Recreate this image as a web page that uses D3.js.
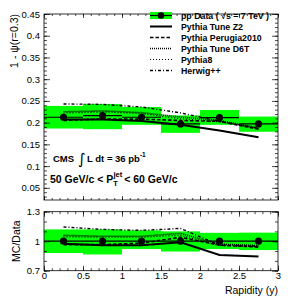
<!DOCTYPE html>
<html><head><meta charset="utf-8">
<script src="https://cdn.jsdelivr.net/npm/d3@7"></script>
<style>
html,body{margin:0;padding:0;background:#fff;}
svg{display:block;font-family:"Liberation Sans",Arial,sans-serif;}
</style></head>
<body><svg id="c" width="293" height="306"></svg>
<script>
// ---------- data ----------
const binCenters = [0.25, 0.75, 1.25, 1.75, 2.25, 2.75];
const binHalfWidth = 0.25;
const dataVals = [0.2124, 0.2161, 0.2124, 0.197, 0.2115, 0.197];
const sysHigh = [0.2385, 0.243, 0.236, 0.2165, 0.229, 0.214];
const sysLow  = [0.1865, 0.185, 0.195, 0.1765, 0.195, 0.179];
const ratioSysHigh = [1.12, 1.12, 1.11, 1.10, 1.085, 1.087];
const ratioSysLow  = [0.88, 0.865, 0.92, 0.895, 0.92, 0.91];

const mcNames = ["Pythia Tune Z2", "Pythia Perugia2010", "Pythia Tune D6T", "Pythia8", "Herwig++"];
const mcZ2      = [0.207, 0.2075, 0.204, 0.195, 0.182, 0.1665];
const mcPerugia = [0.205, 0.2085, 0.208, 0.205, 0.203, 0.185];
const mcD6T     = [0.225, 0.227, 0.223, 0.213, 0.205, 0.188];
const mcPythia8 = [0.222, 0.2245, 0.221, 0.209, 0.202, 0.186];
const mcHerwig  = [0.243, 0.242, 0.236, 0.2225, 0.203, 0.187];

const ratioZ2      = [0.975, 0.96, 0.96, 0.99, 0.86, 0.845];
const ratioPerugia = [0.965, 0.965, 0.98, 1.04, 0.96, 0.94];
const ratioD6T     = [1.06, 1.05, 1.05, 1.08, 0.97, 0.955];
const ratioPythia8 = [1.045, 1.04, 1.04, 1.06, 0.955, 0.945];
const ratioHerwig  = [1.145, 1.12, 1.11, 1.13, 0.96, 0.95];

const xTickLabels = ["0", "0.5", "1", "1.5", "2", "2.5", "3"];
const topYTicks = [0.05, 0.1, 0.15, 0.2, 0.25, 0.3, 0.35, 0.4, 0.45];
const topYTickLabels = ["0.05", "0.1", "0.15", "0.2", "0.25", "0.3", "0.35", "0.4", "0.45"];
const botYTicks = [0.7, 1.0, 1.3];
const botYTickLabels = ["0.7", "1", "1.3"];

// ---------- layout ----------
const svg = d3.select("#c");
const X0 = 44, X1 = 278;
const TOP0 = 14, TOP1 = 200, BOT0 = 211.7, BOT1 = 270.7;
const x = d3.scaleLinear().domain([0, 3]).range([X0, X1]);
const yT = d3.scaleLinear().domain([0.022, 0.45]).range([TOP1, TOP0]);
const yB = d3.scaleLinear().domain([0.7, 1.3]).range([BOT1, BOT0]);

const styles = [
  {w: 2, dash: null},
  {w: 1.6, dash: "3.5,2"},
  {w: 1.6, dash: "1,1"},
  {w: 1.2, dash: "1,2"},
  {w: 1.4, dash: "3,2,1,2"}
];
const GREEN = "#00ff00";

function drawPanel(y, sLo, sHi, dvals, mcs, y0, y1) {
  const g = svg.append("g");
  g.selectAll("rect.band").data(binCenters).enter().append("rect")
    .attr("x", (d) => x(d - binHalfWidth))
    .attr("width", (d) => x(d + binHalfWidth) - x(d - binHalfWidth))
    .attr("y", (d, i) => y(sHi[i]))
    .attr("height", (d, i) => y(sLo[i]) - y(sHi[i]))
    .attr("fill", GREEN);
  const line = d3.line().x((d, i) => x(binCenters[i])).y((d) => y(d));
  mcs.forEach((arr, k) => {
    g.append("path").attr("d", line(arr)).attr("fill", "none")
      .attr("stroke", "#000").attr("stroke-width", styles[k].w)
      .attr("stroke-dasharray", styles[k].dash);
  });
  g.selectAll("line.db").data(binCenters).enter().append("line")
    .attr("x1", (d) => x(d - binHalfWidth)).attr("x2", (d) => x(d + binHalfWidth))
    .attr("y1", (d, i) => y(dvals[i])).attr("y2", (d, i) => y(dvals[i]))
    .attr("stroke", "#000").attr("stroke-width", 1.2);
  g.selectAll("circle").data(binCenters).enter().append("circle")
    .attr("cx", (d) => x(d)).attr("cy", (d, i) => y(dvals[i])).attr("r", 3.6)
    .attr("fill", "#000");
  svg.append("rect").attr("x", X0).attr("y", y1).attr("width", X1 - X0).attr("height", y0 - y1)
    .attr("fill", "none").attr("stroke", "#000").attr("stroke-width", 0.8);
}

drawPanel(yT, sysLow, sysHigh, dataVals, [mcZ2, mcPerugia, mcD6T, mcPythia8, mcHerwig], TOP1, TOP0);
drawPanel(yB, ratioSysLow, ratioSysHigh, binCenters.map(() => 1), [ratioZ2, ratioPerugia, ratioD6T, ratioPythia8, ratioHerwig], BOT1, BOT0);

// ---------- axes / ticks ----------
function ticksGroup(axis, tx, ty) {
  const g = svg.append("g").attr("transform", `translate(${tx},${ty})`).call(axis);
  g.select(".domain").remove();
  g.selectAll("line").attr("stroke", "#000").attr("stroke-width", 0.7);
  return g;
}
const xMajor = d3.range(0, 3.01, 0.5);
const xMinor = d3.range(0, 3.001, 0.1);
[[TOP0, TOP1, 4, 2], [BOT0, BOT1, 5, 2.5]].forEach(([a, b, maj, mnr]) => {
  ticksGroup(d3.axisBottom(x).tickValues(xMajor).tickSize(-maj).tickFormat(""), 0, b);
  ticksGroup(d3.axisBottom(x).tickValues(xMinor).tickSize(-mnr).tickFormat(""), 0, b);
  ticksGroup(d3.axisTop(x).tickValues(xMajor).tickSize(-maj).tickFormat(""), 0, a);
  ticksGroup(d3.axisTop(x).tickValues(xMinor).tickSize(-mnr).tickFormat(""), 0, a);
});
const xl = ticksGroup(d3.axisBottom(x).tickValues(xMajor).tickSize(0).tickPadding(1.5).tickFormat((d, i) => xTickLabels[i]), 0, BOT1);
xl.selectAll("text").attr("font-size", 9.5).attr("fill", "#000").attr("font-family", "Liberation Sans, Arial");

const yTMinor = d3.range(0.03, 0.4501, 0.01);
ticksGroup(d3.axisLeft(yT).tickValues(topYTicks).tickSize(-6).tickPadding(4).tickFormat((d, i) => topYTickLabels[i]), X0, 0)
  .selectAll("text").attr("font-size", 9.5).attr("fill", "#000").attr("font-family", "Liberation Sans, Arial");
ticksGroup(d3.axisLeft(yT).tickValues(yTMinor).tickSize(-3).tickFormat(""), X0, 0);
ticksGroup(d3.axisRight(yT).tickValues(topYTicks).tickSize(-6).tickFormat(""), X1, 0);
ticksGroup(d3.axisRight(yT).tickValues(yTMinor).tickSize(-3).tickFormat(""), X1, 0);
const yBMinor = d3.range(0.7, 1.3001, 0.1);
ticksGroup(d3.axisLeft(yB).tickValues(botYTicks).tickSize(-6).tickPadding(4).tickFormat((d, i) => botYTickLabels[i]), X0, 0)
  .selectAll("text").attr("font-size", 9.5).attr("fill", "#000").attr("font-family", "Liberation Sans, Arial");
ticksGroup(d3.axisLeft(yB).tickValues(yBMinor).tickSize(-3).tickFormat(""), X0, 0);
ticksGroup(d3.axisRight(yB).tickValues(botYTicks).tickSize(-6).tickFormat(""), X1, 0);
ticksGroup(d3.axisRight(yB).tickValues(yBMinor).tickSize(-3).tickFormat(""), X1, 0);

svg.append("text").attr("transform", `translate(18,${TOP0}) rotate(-90)`)
  .attr("text-anchor", "end").attr("font-size", 10.5).text("1 - ψ(r=0.3)");
svg.append("text").attr("transform", `translate(19.5,${(BOT0 + BOT1) / 2}) rotate(-90)`)
  .attr("text-anchor", "middle").attr("font-size", 10.5).text("MC/Data");
svg.append("text").attr("x", X1).attr("y", 294).attr("text-anchor", "end")
  .attr("font-size", 10.5).text("Rapidity (y)");

// ---------- legend ----------
const legY = [15.5, 26.5, 37.5, 48.5, 59.5, 70.5];
const lg = svg.append("g");
lg.append("rect").attr("x", 150).attr("y", legY[0] - 3.5).attr("width", 22).attr("height", 7).attr("fill", GREEN);
lg.append("line").attr("x1", 150).attr("x2", 172).attr("y1", legY[0]).attr("y2", legY[0]).attr("stroke", "#000").attr("stroke-width", 1.2);
lg.append("circle").attr("cx", 161).attr("cy", legY[0]).attr("r", 3.3).attr("fill", "#000");
lg.append("text").attr("x", 181).attr("y", legY[0] + 3).attr("font-size", 8.8).attr("font-weight", "bold")
  .text("pp Data ( \u221As = 7 TeV )");
mcNames.forEach((n, k) => {
  const yy = legY[k + 1];
  lg.append("line").attr("x1", 150).attr("x2", 172).attr("y1", yy).attr("y2", yy)
    .attr("stroke", "#000").attr("stroke-width", styles[k].w).attr("stroke-dasharray", styles[k].dash);
  lg.append("text").attr("x", 181).attr("y", yy + 3).attr("font-size", 8.8).attr("font-weight", "bold").text(n);
});

// ---------- annotations ----------
svg.append("text").attr("x", 53).attr("y", 161.5).attr("font-size", 9.5).attr("font-weight", "bold").text("CMS");
svg.append("text").attr("x", 78).attr("y", 164).attr("font-size", 15).attr("font-family", "DejaVu Sans").text("\u222B");
const a2 = svg.append("text").attr("x", 87).attr("y", 161.5).attr("font-size", 9.5).attr("font-weight", "bold");
a2.append("tspan").text("L dt = 36 pb");
a2.append("tspan").attr("dy", -5).attr("font-size", 6.5).text("-1");

const a3 = svg.append("text").attr("x", 50).attr("y", 183).attr("font-size", 10.5).attr("font-weight", "bold");
a3.append("tspan").text("50 GeV/c < P");
a3.append("tspan").attr("dy", 3).attr("font-size", 7.5).text("T");
a3.append("tspan").attr("dx", -4.5).attr("dy", -9).attr("font-size", 7.5).text("jet");
a3.append("tspan").attr("dx", 2).attr("dy", 6).text("< 60 GeV/c");
</script></body></html>
